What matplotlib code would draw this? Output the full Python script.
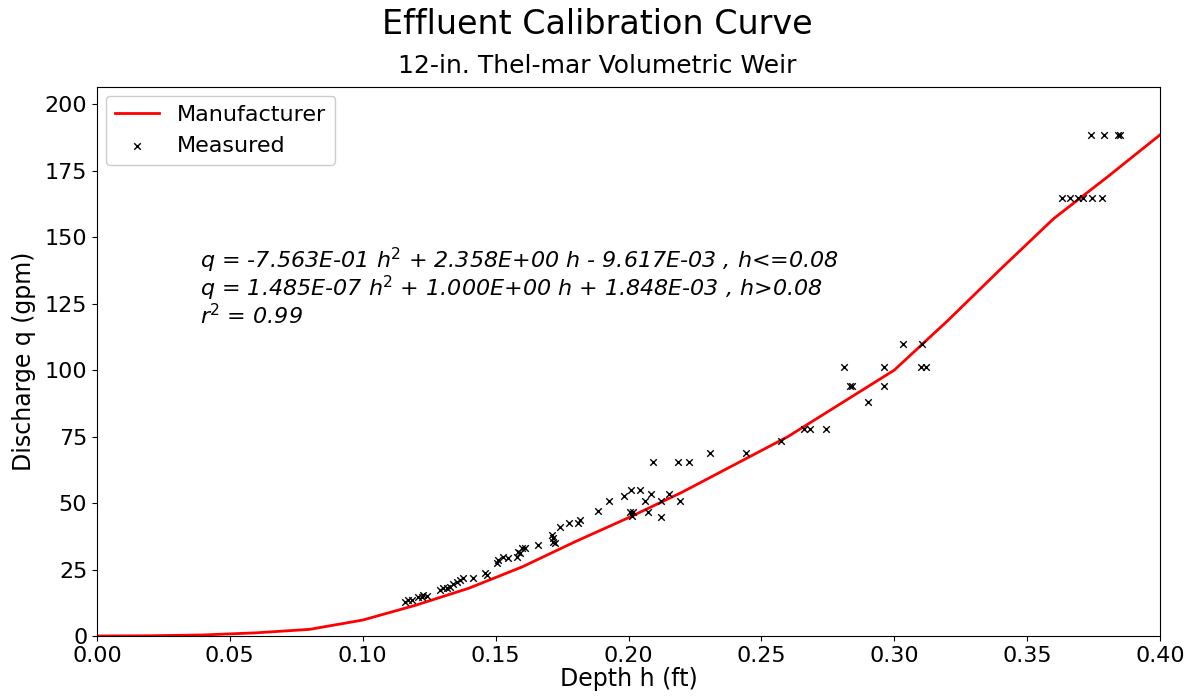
import matplotlib
matplotlib.use("Agg")
import matplotlib.pyplot as plt

# Manufacturer rating curve (depth ft, discharge gpm)
mfr_h = [0.00, 0.02, 0.04, 0.06, 0.08, 0.10, 0.12, 0.14, 0.16, 0.18, 0.20,
         0.22, 0.24, 0.26, 0.28, 0.30, 0.32, 0.34, 0.36, 0.38, 0.40]
mfr_q = [0.0, 0.1, 0.4, 1.2, 2.5, 6.0, 11.6, 18.0, 26.0, 35.5, 44.5,
         54.0, 64.5, 75.0, 87.5, 100.0, 118.5, 138.0, 157.0, 172.5, 188.5]

# Measured points
meas_h = [0.1159, 0.1170, 0.1185, 0.1208, 0.1223, 0.1227, 0.1242, 0.1291, 0.1302,
          0.1317, 0.1328, 0.1340, 0.1355, 0.1366, 0.1377, 0.1415, 0.1460, 0.1468,
          0.1505, 0.1509, 0.1528, 0.1547, 0.1580, 0.1584, 0.1592, 0.1599, 0.1611,
          0.1659, 0.1712, 0.1716, 0.1723, 0.1716, 0.1742, 0.1776, 0.1810, 0.1817,
          0.1885, 0.1927, 0.1983, 0.2009, 0.2043, 0.2006, 0.2017, 0.2013, 0.2062,
          0.2085, 0.2073, 0.2122, 0.2122, 0.2152, 0.2194, 0.2092, 0.2186, 0.2228,
          0.2307, 0.2442, 0.2574, 0.2660, 0.2683, 0.2743, 0.2811, 0.2834, 0.2841,
          0.2901, 0.2961, 0.2961, 0.3033, 0.3104, 0.3101, 0.3119, 0.3740, 0.3789,
          0.3842, 0.3849, 0.3631, 0.3661, 0.3691, 0.3710, 0.3744, 0.3782]
meas_q = [12.8, 13.5, 13.5, 14.7, 14.7, 15.4, 15.0, 17.3, 18.0, 18.0, 18.4,
          19.5, 20.3, 21.0, 21.8, 21.8, 23.7, 22.9, 27.6, 28.6, 29.7, 29.3,
          29.7, 31.6, 31.2, 33.1, 33.1, 34.2, 38.0, 35.3, 35.0, 36.8, 41.0,
          42.5, 42.5, 43.6, 47.0, 50.8, 52.6, 54.9, 54.9, 46.6, 46.6, 45.1,
          50.8, 53.4, 46.6, 50.8, 44.7, 53.4, 50.8, 65.4, 65.4, 65.4, 69.0,
          68.8, 73.3, 77.8, 77.8, 77.8, 101.1, 94.0, 94.0, 88.0, 101.1, 94.0,
          109.8, 109.8, 101.1, 101.1, 188.3, 188.3, 188.3, 188.3, 164.7, 164.7,
          164.7, 164.7, 164.7, 164.7]

eq_lines = ["q = -7.563E-01 h$^2$ + 2.358E+00 h - 9.617E-03 , h<=0.08",
            "q = 1.485E-07 h$^2$ + 1.000E+00 h + 1.848E-03 , h>0.08",
            "r$^2$ = 0.99"]

fig = plt.figure(figsize=(11.94, 7.0), dpi=100)
ax = fig.add_axes([97/1194, 1 - 636/700, (1160-97)/1194, (636-87)/700])

ax.plot(mfr_h, mfr_q, color="red", lw=2, label="Manufacturer")
ax.scatter(meas_h, meas_q, marker="x", color="black", s=22, lw=1,
           label="Measured", zorder=3)

ax.set_xlim(0, 0.40)
ax.set_ylim(0, 206.5)
ax.set_xticks([0.00, 0.05, 0.10, 0.15, 0.20, 0.25, 0.30, 0.35, 0.40])
ax.set_xticklabels(["0.00", "0.05", "0.10", "0.15", "0.20", "0.25", "0.30", "0.35", "0.40"])
ax.set_yticks([0, 25, 50, 75, 100, 125, 150, 175, 200])
ax.tick_params(labelsize=16)
ax.set_xlabel("Depth h (ft)", fontsize=17, labelpad=1)
ax.set_ylabel("Discharge q (gpm)", fontsize=17, labelpad=6)

for line, yb in zip(eq_lines, [0.670, 0.619, 0.568]):
    ax.text(0.097, yb, line, transform=ax.transAxes, fontsize=16,
            fontstyle="italic", va="baseline", ha="left")

ax.legend(loc="upper left", fontsize=16, framealpha=1, borderaxespad=0.4)

fig.text(0.5, 1 - 25/700, "Effluent Calibration Curve", fontsize=24,
         ha="center", va="center")
fig.text(0.5, 1 - 66/700, "12-in. Thel-mar Volumetric Weir", fontsize=18,
         ha="center", va="center")

fig.savefig("out.png", dpi=100)
